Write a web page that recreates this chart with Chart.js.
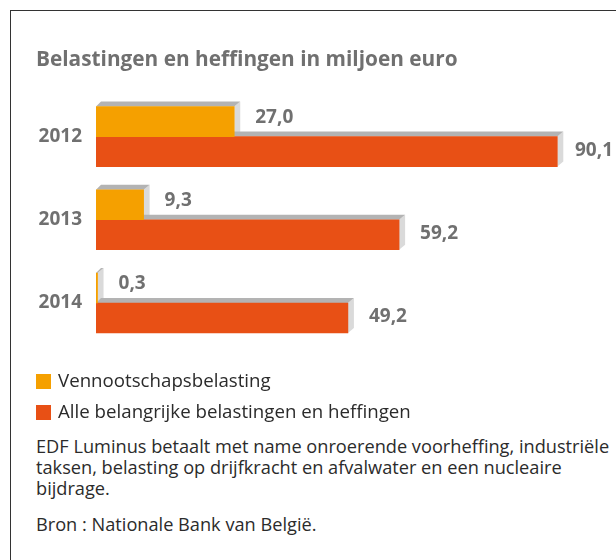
<!DOCTYPE html>
<html>
<head>
<meta charset="utf-8">
<script src="https://cdn.jsdelivr.net/npm/chart.js@4"></script>
<style>
  body { margin: 0; background: #fff; font-family: "Open Sans", sans-serif; }
  #wrap { position: relative; width: 616px; height: 560px; overflow: hidden; }
  #frame { position: absolute; left: 10px; top: 10px; width: 700px; height: 600px;
           border-left: 1px solid #333; border-top: 1px solid #333; }
  #chartBox { position: absolute; left: 0; top: 0; width: 616px; height: 370px; }
  #legend { position: absolute; left: 36px; top: 367px; font-size: 18.7px; color: #2b2b2b; }
  #legend div { height: 31px; line-height: 26px; white-space: nowrap; }
  #legend span { display: inline-block; width: 15px; height: 15px; margin-right: 7px; vertical-align: -2px; }
  #note { position: absolute; left: 36px; top: 436px; font-size: 18.2px; line-height: 21px; color: #2b2b2b; white-space: nowrap; }
  #note p { margin: 0 0 15px 0; }
</style>
</head>
<body>
<div id="wrap">
  <div id="frame"></div>
  <div id="chartBox"><canvas id="chart"></canvas></div>
  <div id="legend"></div>
  <div id="note">
    <p>EDF Luminus betaalt met name onroerende voorheffing, industriële<br>taksen, belasting op drijfkracht en afvalwater en een nucleaire<br>bijdrage.</p>
    <p>Bron : Nationale Bank van België.</p>
  </div>
</div>
<script>
const years = ["2012", "2013", "2014"];
const vennootschap = [27.0, 9.3, 0.3];
const alleBelastingen = [90.1, 59.2, 49.2];
const seriesNames = ["Vennootschapsbelasting", "Alle belangrijke belastingen en heffingen"];
const colors = ["#f5a000", "#e85015"];

const grey = "#707070";
const fmt = v => v.toFixed(1).replace(".", ",");

// 3D bevel behind each bar (top face + right face) and value labels
const bevel = {
  id: "bevel",
  beforeDatasetsDraw(chart) {
    const ctx = chart.ctx;
    const d = 5;
    ctx.save();
    [0, 1].forEach(i => {
      chart.getDatasetMeta(i).data.forEach(bar => {
        const x0 = bar.base, x1 = bar.x;
        const top = bar.y - bar.height / 2, bottom = bar.y + bar.height / 2;
        ctx.fillStyle = "#dadada";
        ctx.beginPath();
        ctx.moveTo(x1, top); ctx.lineTo(x1 + d + 1, top - d);
        ctx.lineTo(x1 + d + 1, bottom - d); ctx.lineTo(x1, bottom);
        ctx.closePath(); ctx.fill();
        ctx.fillStyle = "#b3b3b3";
        ctx.beginPath();
        ctx.moveTo(x0, top); ctx.lineTo(x0 + d, top - d);
        ctx.lineTo(x1 + d + 1, top - d); ctx.lineTo(x1, top);
        ctx.closePath(); ctx.fill();
      });
    });
    ctx.restore();
  },
  afterDatasetsDraw(chart) {
    const ctx = chart.ctx;
    ctx.save();
    ctx.font = "bold 19px 'Open Sans', sans-serif";
    ctx.fillStyle = grey;
    ctx.textBaseline = "middle";
    [0, 1].forEach(i => {
      const ds = chart.data.datasets[i];
      chart.getDatasetMeta(i).data.forEach((bar, j) => {
        const txt = fmt(ds.data[j]);
        const w = ctx.measureText(txt).width;
        let x = bar.x + 21;
        x = Math.min(x, chart.width - w - 3);
        ctx.fillText(txt, x, bar.y + (i === 0 ? -4 : -1));
      });
    });
    ctx.restore();
  }
};

new Chart(document.getElementById("chart"), {
  type: "bar",
  data: {
    labels: years,
    datasets: [
      { label: seriesNames[0], data: vennootschap, backgroundColor: colors[0] },
      { label: seriesNames[1], data: alleBelastingen, backgroundColor: colors[1] }
    ]
  },
  options: {
    indexAxis: "y",
    responsive: true,
    maintainAspectRatio: false,
    animation: false,
    barThickness: 30,
    layout: { padding: { left: 36, right: 8, top: 0, bottom: 5 } },
    plugins: {
      legend: { display: false },
      tooltip: { enabled: false },
      title: {
        display: true,
        text: "Belastingen en heffingen in miljoen euro",
        align: "start",
        color: grey,
        font: { family: "'Open Sans', sans-serif", size: 20.8, weight: "bold" },
        padding: { top: 48, bottom: 22 }
      }
    },
    scales: {
      x: { display: false, min: 0, max: 100 },
      y: {
        grid: { display: false, drawTicks: false },
        border: { display: false },
        ticks: {
          color: grey,
          padding: 14,
          font: { family: "'Open Sans', sans-serif", size: 19, weight: "bold" }
        },
        afterFit(scale) { scale.width = 60; }
      }
    }
  },
  plugins: [bevel]
});

// legend
const lg = document.getElementById("legend");
seriesNames.forEach((name, i) => {
  const row = document.createElement("div");
  row.innerHTML = '<span style="background:' + colors[i] + '"></span>' + name;
  lg.appendChild(row);
});
</script>
</body>
</html>
